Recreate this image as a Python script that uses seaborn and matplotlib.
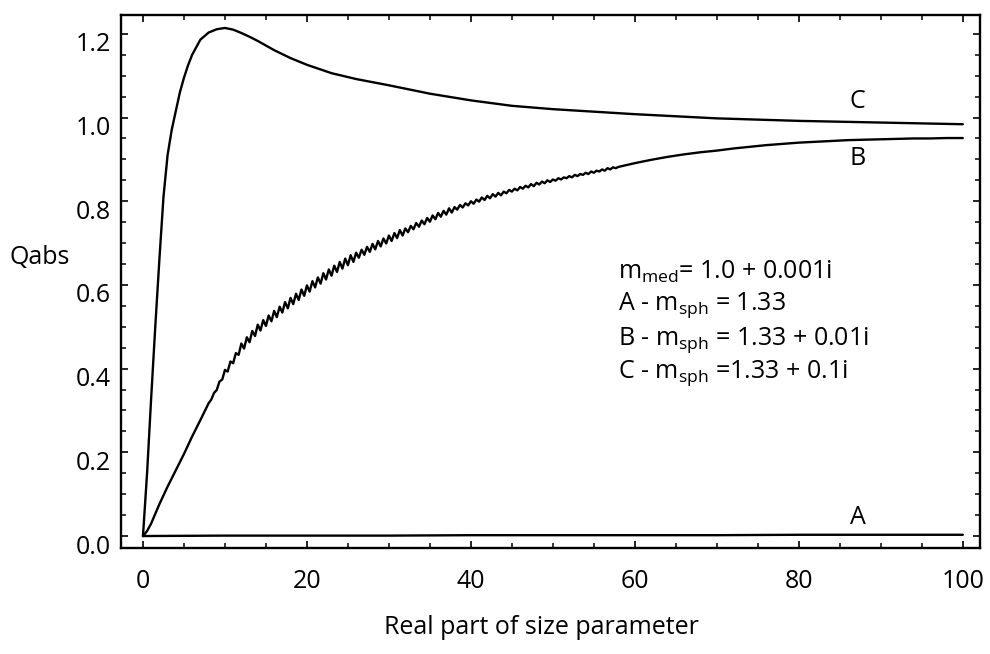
import matplotlib
matplotlib.use("Agg")
import matplotlib.pyplot as plt
import matplotlib.transforms as mtransforms
from matplotlib.ticker import MultipleLocator
import seaborn as sns
import pandas as pd

# ---------------- data ----------------
x_ticks = [0, 20, 40, 60, 80, 100]
y_ticks = [0.0, 0.2, 0.4, 0.6, 0.8, 1.0, 1.2]
y_tick_labels = ["0.0", "0.2", "0.4", "0.6", "0.8", "1.0", "1.2"]

# Curve A : m_sph = 1.33 (non absorbing, ~0)
a_x = [0, 10, 20, 30, 40, 50, 60, 70, 80, 90, 100]
a_y = [0.0, 0.001, 0.001, 0.001, 0.002, 0.002, 0.002, 0.002, 0.003, 0.003, 0.003]

# Curve B : m_sph = 1.33 + 0.01i (with ripple structure)
b_x = [0, 0.5, 1, 2, 3, 4, 5, 6, 7,
       8.00, 8.33, 8.67, 9.00, 9.33, 9.67,
       10.00, 10.33, 10.67, 11.00, 11.33, 11.67,
       12.00, 12.33, 12.67, 13.00, 13.33, 13.67,
       14.00, 14.33, 14.67, 15.00, 15.33, 15.67,
       16.00, 16.33, 16.67, 17.00, 17.33, 17.67,
       18.00, 18.33, 18.67, 19.00, 19.33, 19.67,
       20.00, 20.33, 20.67, 21.00, 21.33, 21.67,
       22.00, 22.33, 22.67, 23.00, 23.33, 23.67,
       24.00, 24.33, 24.67, 25.00, 25.33, 25.67,
       26.00, 26.33, 26.67, 27.00, 27.33, 27.67,
       28.00, 28.33, 28.67, 29.00, 29.33, 29.67,
       30.00, 30.33, 30.67, 31.00, 31.33, 31.67,
       32.00, 32.33, 32.67, 33.00, 33.33, 33.67,
       34.00, 34.33, 34.67, 35.00, 35.33, 35.67,
       36.00, 36.33, 36.67, 37.00, 37.33, 37.67,
       38.00, 38.33, 38.67, 39.00, 39.33, 39.67,
       40.00, 40.33, 40.67, 41.00, 41.33, 41.67,
       42.00, 42.33, 42.67, 43.00, 43.33, 43.67,
       44.00, 44.33, 44.67, 45.00, 45.33, 45.67,
       46.00, 46.33, 46.67, 47.00, 47.33, 47.67,
       48.00, 48.33, 48.67, 49.00, 49.33, 49.67,
       50.00, 50.33, 50.67, 51.00, 51.33, 51.67,
       52.00, 52.33, 52.67, 53.00, 53.33, 53.67,
       54.00, 54.33, 54.67, 55.00, 55.33, 55.67,
       56.00, 56.33, 56.67, 57.00, 57.33, 57.67,
       58, 60, 62, 64, 66, 68, 70, 72, 74, 76, 78, 80,
       82, 84, 86, 88, 90, 92, 94, 96, 98, 100]
b_y = [0.0, 0.012, 0.030, 0.076, 0.118, 0.157, 0.196, 0.238, 0.277,
       0.317, 0.326, 0.342, 0.349, 0.369, 0.374,
       0.397, 0.393, 0.417, 0.413, 0.437, 0.433,
       0.460, 0.448, 0.475, 0.463, 0.490, 0.478,
       0.505, 0.491, 0.516, 0.502, 0.527, 0.513,
       0.538, 0.523, 0.548, 0.534, 0.559, 0.544,
       0.569, 0.554, 0.579, 0.564, 0.589, 0.574,
       0.599, 0.584, 0.609, 0.594, 0.618, 0.603,
       0.628, 0.613, 0.637, 0.622, 0.646, 0.631,
       0.655, 0.639, 0.663, 0.647, 0.671, 0.655,
       0.677, 0.665, 0.684, 0.672, 0.691, 0.679,
       0.698, 0.685, 0.705, 0.692, 0.711, 0.699,
       0.718, 0.705, 0.724, 0.712, 0.731, 0.718,
       0.735, 0.726, 0.741, 0.733, 0.748, 0.739,
       0.754, 0.745, 0.760, 0.751, 0.766, 0.757,
       0.772, 0.763, 0.777, 0.768, 0.783, 0.773,
       0.786, 0.780, 0.791, 0.785, 0.795, 0.790,
       0.800, 0.794, 0.804, 0.799, 0.809, 0.803,
       0.813, 0.807, 0.817, 0.811, 0.820, 0.814,
       0.823, 0.819, 0.827, 0.823, 0.830, 0.826,
       0.834, 0.830, 0.837, 0.833, 0.841, 0.836,
       0.844, 0.840, 0.847, 0.843, 0.850, 0.846,
       0.852, 0.849, 0.855, 0.852, 0.857, 0.855,
       0.860, 0.857, 0.863, 0.860, 0.865, 0.863,
       0.868, 0.865, 0.871, 0.868, 0.873, 0.871,
       0.876, 0.873, 0.879, 0.876, 0.881, 0.879,
       0.882, 0.891, 0.899, 0.906, 0.912, 0.917, 0.921, 0.926, 0.930, 0.934, 0.937, 0.940,
       0.942, 0.944, 0.946, 0.947, 0.948, 0.949, 0.950, 0.950, 0.951, 0.951]

# Curve C : m_sph = 1.33 + 0.1i
c_x = [0, 0.5, 1, 1.5, 2, 2.5, 3, 3.5, 4, 4.5, 5, 5.5, 6, 7, 8, 9, 10, 11, 12, 13, 14,
       16, 18, 20, 23, 26, 30, 35, 40, 45, 50, 55, 60, 65, 70, 75, 80, 85, 90, 95, 100]
c_y = [0.0, 0.15, 0.33, 0.50, 0.66, 0.81, 0.91, 0.97, 1.015, 1.06, 1.095, 1.125, 1.15,
       1.186, 1.203, 1.211, 1.214, 1.210, 1.202, 1.193, 1.183,
       1.161, 1.142, 1.126, 1.106, 1.092, 1.077, 1.057, 1.041, 1.028, 1.020, 1.014,
       1.008, 1.003, 0.998, 0.995, 0.992, 0.990, 0.988, 0.986, 0.984]

curve_names = ["A", "B", "C"]
curve_label_x = [87.2, 87.2, 87.2]
curve_label_y = [0.045, 0.902, 1.038]

annotation_lines = [
    r"$\mathregular{m_{med}}$= 1.0 + 0.001i",
    r"A - $\mathregular{m_{sph}}$ = 1.33",
    r"B - $\mathregular{m_{sph}}$ = 1.33 + 0.01i",
    r"C - $\mathregular{m_{sph}}$ =1.33 + 0.1i",
]

x_label = "Real part of size parameter"
y_label = "Qabs"

# ---------------- style ----------------
sns.set_style("ticks")
FONT = "Open Sans"
plt.rcParams["font.family"] = [FONT, "DejaVu Sans"]
plt.rcParams["mathtext.fontset"] = "custom"
plt.rcParams["mathtext.rm"] = FONT
plt.rcParams["mathtext.it"] = FONT
plt.rcParams["text.color"] = "black"
plt.rcParams["axes.labelcolor"] = "black"
plt.rcParams["xtick.color"] = "black"
plt.rcParams["ytick.color"] = "black"
FS = 18

frames = []
for name, xs, ys in [("A", a_x, a_y), ("B", b_x, b_y), ("C", c_x, c_y)]:
    frames.append(pd.DataFrame({"x": xs, "Qabs": ys, "curve": name}))
df = pd.concat(frames, ignore_index=True)

fig = plt.figure(figsize=(9.9, 6.54), dpi=100)
ax = fig.add_axes([121 / 990, 1 - 548 / 654, 859 / 990, 533 / 654])

sns.lineplot(data=df, x="x", y="Qabs", hue="curve", units="curve", estimator=None,
             palette={"A": "black", "B": "black", "C": "black"},
             linewidth=1.7, legend=False, sort=False, ax=ax)

ax.set_xlim(-2.68, 102.1)
ax.set_ylim(-0.0286, 1.245)

ax.set_xticks(x_ticks)
ax.set_xticklabels([str(t) for t in x_ticks])
ax.set_yticks(y_ticks)
ax.set_yticklabels(y_tick_labels)
ax.xaxis.set_minor_locator(MultipleLocator(5))
ax.yaxis.set_minor_locator(MultipleLocator(0.05))

ax.tick_params(which="major", direction="in", length=5, width=1.2,
               top=True, right=True, labelsize=FS, colors="black")
ax.tick_params(which="minor", direction="in", length=3.5, width=1.1,
               top=True, right=True)
ax.tick_params(axis="x", which="major", pad=15)
ax.tick_params(axis="y", which="major", pad=7)

# y tick labels sit slightly below their ticks in the reference
offset = mtransforms.ScaledTranslation(0, -8 / 100, fig.dpi_scale_trans)
for lbl in ax.get_yticklabels():
    lbl.set_transform(lbl.get_transform() + offset)

for sp in ax.spines.values():
    sp.set_linewidth(1.7)
    sp.set_color("black")

ax.set_xlabel(x_label, fontsize=FS, va="center")
ax.set_ylabel(y_label, fontsize=FS, rotation=0, ha="center", va="center")
ax.xaxis.set_label_coords((541 - 121) / 859, (548 - 627) / 533)
ax.yaxis.set_label_coords((40 - 121) / 859, (548 - 258) / 533)

for name, lx, ly in zip(curve_names, curve_label_x, curve_label_y):
    ax.text(lx, ly, name, fontsize=FS, ha="center", va="center")

ann_y = [(548 - 272) / 533, (548 - 305) / 533, (548 - 340) / 533, (548 - 373) / 533]
for txt, yy in zip(annotation_lines, ann_y):
    ax.text((618 - 121) / 859, yy, txt, transform=ax.transAxes, fontsize=FS,
            ha="left", va="center")

fig.savefig("out.png", dpi=100)
